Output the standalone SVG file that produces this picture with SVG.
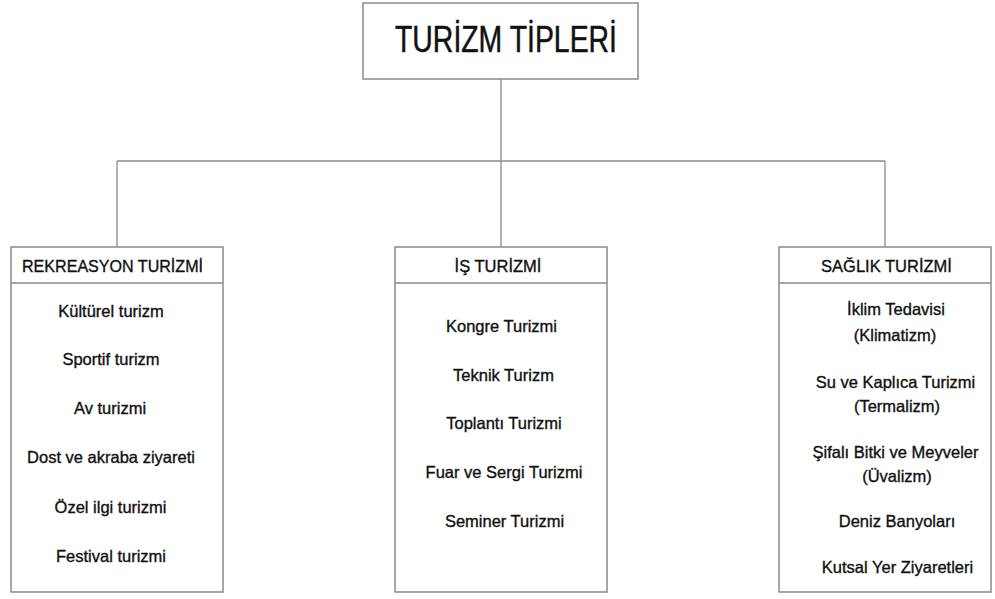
<svg xmlns="http://www.w3.org/2000/svg" width="995" height="599" viewBox="0 0 995 599">
<style>
.box{fill:#fff;stroke:#8a8a8a;stroke-width:1.5}
.ln{fill:none;stroke:#8a8a8a;stroke-width:1.3}
text{font-family:"Liberation Sans",Arial,sans-serif;font-size:16.5px;fill:#111;stroke:#111;stroke-width:0.35;text-anchor:middle}
.title{font-size:37px;stroke-width:0.5}
</style>
<rect width="995" height="599" fill="#fff"/>
<g id="connectors">
<path class="ln" d="M501 79V161M117 161H885M117 161V247M501 161V247M885 161V247"/>
</g>
<g id="turizm-tipleri">
<rect class="box" x="363" y="3" width="275" height="76"/>
<text class="title" x="506" y="52" textLength="222" lengthAdjust="spacingAndGlyphs">TURİZM TİPLERİ</text>
</g>
<g id="rekreasyon">
<rect class="box" x="11" y="247" width="212" height="345"/>
<line class="ln" x1="11" y1="283" x2="223" y2="283"/>
<text x="112.5" y="272" textLength="181" lengthAdjust="spacingAndGlyphs">REKREASYON TURİZMİ</text>
<text x="111" y="317">Kültürel turizm</text>
<text x="111" y="365">Sportif turizm</text>
<text x="110" y="414">Av turizmi</text>
<text x="111" y="463">Dost ve akraba ziyareti</text>
<text x="110.5" y="513">Özel ilgi turizmi</text>
<text x="111" y="562">Festival turizmi</text>
</g>
<g id="is">
<rect class="box" x="395" y="247" width="212" height="345"/>
<line class="ln" x1="395" y1="283" x2="607" y2="283"/>
<text x="498" y="272">İŞ TURİZMİ</text>
<text x="501.5" y="332">Kongre Turizmi</text>
<text x="503.5" y="381">Teknik Turizm</text>
<text x="504" y="429">Toplantı Turizmi</text>
<text x="504" y="478">Fuar ve Sergi Turizmi</text>
<text x="504.5" y="527">Seminer Turizmi</text>
</g>
<g id="saglik">
<rect class="box" x="779" y="247" width="212" height="345"/>
<line class="ln" x1="779" y1="283" x2="991" y2="283"/>
<text x="886.5" y="272">SAĞLIK TURİZMİ</text>
<text x="896" y="315">İklim Tedavisi</text>
<text x="895" y="341">(Klimatizm)</text>
<text x="895.5" y="388">Su ve Kaplıca Turizmi</text>
<text x="897" y="412">(Termalizm)</text>
<text x="895.5" y="458">Şifalı Bitki ve Meyveler</text>
<text x="897" y="482">(Üvalizm)</text>
<text x="897" y="527">Deniz Banyoları</text>
<text x="897.5" y="573">Kutsal Yer Ziyaretleri</text>
</g>
</svg>
